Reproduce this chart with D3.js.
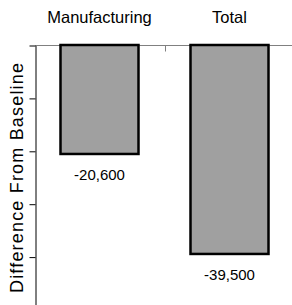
<!DOCTYPE html>
<html>
<head>
<meta charset="utf-8">
<script src="https://cdn.jsdelivr.net/npm/d3@7/dist/d3.min.js"></script>
<style>
  html, body { margin: 0; padding: 0; background: #fff; }
  svg { display: block; font-family: "Liberation Sans", Arial, sans-serif; }
</style>
</head>
<body>
<svg id="chart" width="292" height="305"></svg>
<script>
const categories = ["Manufacturing", "Total"];
const values = [-20600, -39500];
const valueLabels = ["-20,600", "-39,500"];
const yTicks = [0, -10000, -20000, -30000, -40000, -50000];
const yTitle = "Difference From Baseline";

const svg = d3.select("#chart");
const W = 292, H = 305;

const x = d3.scaleBand().domain(categories).range([34.5, 294.5])
  .paddingInner(0.4).paddingOuter(0.2);
const y = d3.scaleLinear().domain([0, -50000]).range([45, 309.5]);

// top category baseline (gray) with separator tick
const boundary = x(categories[1]) - (x.step() - x.bandwidth()) / 2;
svg.append("line")
  .attr("x1", 35).attr("x2", W).attr("y1", y(0) + 0.5).attr("y2", y(0) + 0.5)
  .attr("stroke", "#808080").attr("stroke-width", 1);
svg.append("line")
  .attr("x1", Math.round(boundary) + 0.5).attr("x2", Math.round(boundary) + 0.5)
  .attr("y1", y(0)).attr("y2", y(0) + 6.5)
  .attr("stroke", "#808080").attr("stroke-width", 1);

// y axis
const yAxis = d3.axisLeft(y).tickValues(yTicks).tickFormat("").tickSize(6).tickSizeOuter(0);
const gy = svg.append("g").attr("transform", "translate(35.5,0.5)").call(yAxis);
gy.selectAll("path, line").attr("stroke", "#000").attr("stroke-width", 1);

// bars
svg.selectAll("rect.bar").data(categories).enter().append("rect")
  .attr("class", "bar")
  .attr("x", d => x(d))
  .attr("y", y(0))
  .attr("width", x.bandwidth())
  .attr("height", (d, i) => y(values[i]) - y(0))
  .attr("fill", "#a0a0a0")
  .attr("stroke", "#000")
  .attr("stroke-width", 2.5);

// category labels
svg.selectAll("text.cat").data(categories).enter().append("text")
  .attr("class", "cat")
  .attr("x", d => x(d) + x.bandwidth() / 2)
  .attr("y", 23)
  .attr("text-anchor", "middle")
  .attr("font-size", "16.5px")
  .attr("fill", "#000")
  .text(d => d);

// value labels
svg.selectAll("text.val").data(categories).enter().append("text")
  .attr("class", "val")
  .attr("x", d => x(d) + x.bandwidth() / 2)
  .attr("y", (d, i) => y(values[i]) + 26)
  .attr("text-anchor", "middle")
  .attr("font-size", "15px")
  .attr("fill", "#000")
  .text((d, i) => valueLabels[i]);

// y title
svg.append("text")
  .attr("transform", "translate(23,178) rotate(-90)")
  .attr("text-anchor", "middle")
  .attr("font-size", "18px")
  .attr("textLength", 230)
  .attr("lengthAdjust", "spacing")
  .attr("fill", "#000")
  .text(yTitle);
</script>
</body>
</html>
